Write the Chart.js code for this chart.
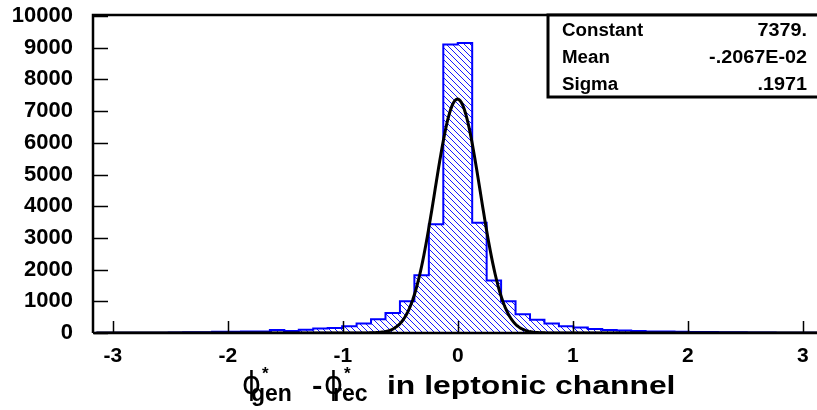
<!DOCTYPE html>
<html>
<head>
<meta charset="utf-8">
<script src="https://cdn.jsdelivr.net/npm/chart.js@4.4.1/dist/chart.umd.min.js"></script>
<style>
  html, body { margin: 0; padding: 0; background: #fff; }
  canvas { display: block; }
</style>
</head>
<body>
<canvas id="dphi" width="817" height="410"></canvas>
<script>
// histogram: 50 bins over [-pi, pi]
const PHI_MIN = -Math.PI;
const PHI_MAX = Math.PI;
const counts = [
    5, 5, 5, 8, 10, 12, 20, 25, 40, 40,
    50, 50, 95, 65, 105, 140, 155, 215, 300, 430,
    630, 1000, 1820, 3430, 9100, 9150, 3480, 1660, 1000, 590,
    420, 300, 210, 170, 125, 95, 80, 60, 50, 45,
    40, 35, 30, 25, 20, 15, 12, 10, 8, 5
];

// gaussian fit results
const fitLabels = ['Constant', 'Mean', 'Sigma'];
const fitValues = ['7379.', '-.2067E-02', '.1971'];
const fitConst = 7379, fitMean = -0.2067e-2, fitSigma = 0.1971;

const xTicks = [-3, -2, -1, 0, 1, 2, 3];
const yTicks = [0, 1000, 2000, 3000, 4000, 5000, 6000, 7000, 8000, 9000, 10000];

const binW = (PHI_MAX - PHI_MIN) / counts.length;
const histPts = [{ x: PHI_MIN, y: 0 }];
counts.forEach((c, i) => histPts.push({ x: PHI_MIN + i * binW, y: c }));
histPts.push({ x: PHI_MAX, y: counts[counts.length - 1] });
histPts.push({ x: PHI_MAX, y: 0 });

const fitPts = [];
for (let i = 0; i <= 640; i++) {
    const x = PHI_MIN + i * (PHI_MAX - PHI_MIN) / 640;
    fitPts.push({ x, y: fitConst * Math.exp(-0.5 * Math.pow((x - fitMean) / fitSigma, 2)) });
}

// diagonal hatch fill
function hatch(color) {
    const s = 6;
    const c = document.createElement('canvas');
    c.width = s; c.height = s;
    const g = c.getContext('2d');
    g.strokeStyle = color;
    g.lineWidth = 0.9;
    g.beginPath();
    g.moveTo(-1, -1); g.lineTo(s + 1, s + 1);
    g.moveTo(-1, s - 1); g.lineTo(1, s + 1);
    g.moveTo(s - 1, -1); g.lineTo(s + 1, 1);
    g.stroke();
    return g.createPattern(c, 'repeat');
}

// text drawn a little wider than the font's own proportions
function wideText(ctx, text, x, y, sx, align) {
    ctx.save();
    ctx.translate(x, y);
    ctx.scale(sx, 1);
    ctx.textAlign = align || 'left';
    ctx.fillText(text, 0, 0);
    ctx.restore();
}

const frame = {
    id: 'frame',
    afterDatasetsDraw(chart) {
        const { ctx, chartArea: a, scales: { x, y } } = chart;
        ctx.save();
        ctx.strokeStyle = '#000';
        // inner tick marks
        ctx.lineWidth = 1.5;
        ctx.beginPath();
        xTicks.forEach(v => {
            const px = Math.round(x.getPixelForValue(v)) + 0.5;
            ctx.moveTo(px, a.bottom); ctx.lineTo(px, a.bottom - 12);
        });
        yTicks.forEach(v => {
            const py = Math.round(y.getPixelForValue(v)) + 0.5;
            ctx.moveTo(a.left, py); ctx.lineTo(a.left + 14, py);
        });
        ctx.stroke();
        // box
        ctx.lineWidth = 2.5;
        ctx.beginPath();
        ctx.moveTo(a.left - 1, a.bottom);
        ctx.lineTo(a.left - 1, a.top - 1);
        ctx.lineTo(a.right + 2, a.top - 1);
        ctx.moveTo(a.left - 1, a.bottom);
        ctx.lineTo(a.right + 2, a.bottom);
        ctx.stroke();

        // fit statistics
        const bx = 548, by = a.top - 1, bw = 280, bh = 82;
        ctx.fillStyle = '#fff';
        ctx.fillRect(bx, by, bw, bh);
        ctx.lineWidth = 3;
        ctx.strokeRect(bx, by, bw, bh);
        ctx.fillStyle = '#000';
        ctx.font = 'bold 18px "Liberation Sans", Arial, sans-serif';
        fitLabels.forEach((t, i) => {
            const base = 36 + i * 27;
            wideText(ctx, t, 562, base, 1.04, 'left');
            wideText(ctx, fitValues[i], 807, base, 1.1, 'right');
        });

        // axis title
        const phiFont = '32px "DejaVu Sans", sans-serif';
        const subFont = 'bold 23px "Liberation Sans", Arial, sans-serif';
        const starFont = 'bold 17px "Liberation Sans", Arial, sans-serif';
        const base = 394;
        [[242, 'gen'], [324, 'rec']].forEach(([px, sub]) => {
            ctx.font = phiFont;
            wideText(ctx, '\u03D5', px, base, 0.9);
            ctx.font = subFont;
            wideText(ctx, sub, px + 9, base + 7, 1.0);
            ctx.font = starFont;
            wideText(ctx, '*', px + 20, base - 15, 1.0);
        });
        ctx.font = 'bold 26px "Liberation Sans", Arial, sans-serif';
        wideText(ctx, '-', 312, base, 1.2);
        wideText(ctx, 'in leptonic channel', 387, base, 1.225);
        ctx.restore();
    }
};

const tickFont = size => ({ family: '"Liberation Sans", Arial, sans-serif', size, weight: 'bold' });

new Chart(document.getElementById('dphi'), {
    type: 'line',
    data: {
        datasets: [{
            label: 'fit',
            data: fitPts,
            order: 0,
            borderColor: '#000',
            borderWidth: 3,
            pointRadius: 0,
            fill: false
        }, {
            label: 'hist',
            data: histPts,
            order: 1,
            stepped: 'before',
            borderColor: '#0000ff',
            borderWidth: 2,
            borderJoinStyle: 'miter',
            pointRadius: 0,
            fill: 'origin',
            backgroundColor: hatch('#0000ff')
        }]
    },
    options: {
        responsive: false,
        animation: false,
        devicePixelRatio: 1,
        layout: { padding: { top: 16, left: 0, right: 0, bottom: 0 } },
        plugins: { legend: { display: false }, tooltip: { enabled: false } },
        scales: {
            x: {
                type: 'linear',
                min: -3.163,
                max: 3.124,
                afterBuildTicks: s => { s.ticks = xTicks.map(v => ({ value: v })); },
                afterFit: s => { s.height = 77; s.paddingLeft = 0; s.paddingRight = 0; },
                grid: { display: false, drawTicks: false },
                border: { display: false },
                ticks: {
                    padding: 11,
                    color: '#000',
                    font: tickFont(21),
                    callback: v => String(v)
                }
            },
            y: {
                min: 0,
                max: 10000,
                afterBuildTicks: s => { s.ticks = yTicks.map(v => ({ value: v })); },
                afterFit: s => { s.width = 94; s.paddingTop = 0; s.paddingBottom = 0; },
                grid: { display: false, drawTicks: false },
                border: { display: false },
                ticks: {
                    padding: 21,
                    color: '#000',
                    font: tickFont(22),
                    callback: v => String(v)
                }
            }
        }
    },
    plugins: [frame]
});
</script>
</body>
</html>
